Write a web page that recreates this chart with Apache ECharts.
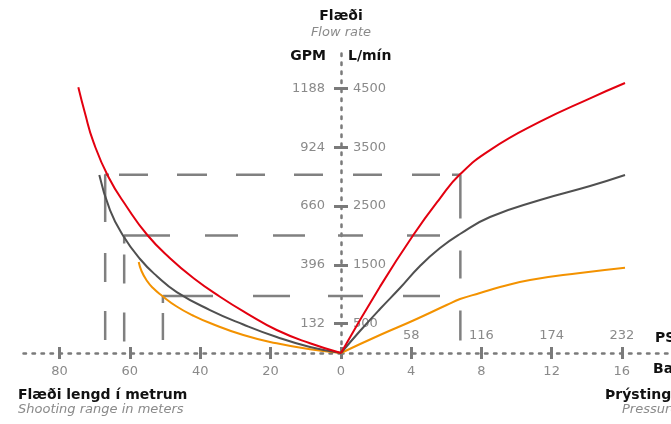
<!DOCTYPE html>
<html>
<head>
<meta charset="utf-8">
<script src="https://cdn.jsdelivr.net/npm/echarts@6/dist/echarts.min.js"></script>
<style>
  html, body { margin: 0; padding: 0; background: #fff; }
  #chart { width: 671px; height: 424px; }
</style>
</head>
<body>
<div id="chart"></div>
<script>
// ---- tick values & labels ----
const meterTicks = [0, 20, 40, 60, 80];
const barTicks = [0, 4, 8, 12, 16];
const barLabelTicks = [4, 8, 12, 16];
const psiLabels = [58, 116, 174, 232];
const lpmTicks = [500, 1500, 2500, 3500, 4500];
const gpmLabels = [132, 396, 660, 924, 1188];

// ---- series values: [range m, flow L/min] and [pressure bar, flow L/min] ----
const redRange = [[0,0],[8.81,165],[18.27,391],[26.79,675],[34.38,957],[41.96,1276],[48.58,1611],[55.03,2007],[60.88,2488],[66.11,2998],[70.37,3594],[72.73,4077],[74.63,4519]];
const grayRange = [[0,0],[8.81,102],[18.27,272],[27.75,485],[37.22,731],[46.67,1037],[52.36,1310],[57.1,1599],[61.85,1990],[65.63,2432],[68.67,3027]];
const orangeRange = [[0,0],[8.81,63],[18.27,165],[27.76,306],[37.22,510],[42.05,638],[46.68,791],[50.94,978],[53.41,1105],[55.2,1233],[56.68,1395],[57.47,1548]];

const redPressure = [[0,0],[2.22,1128],[4.12,2007],[5.64,2631],[6.78,3039],[8.49,3452],[11.34,3934],[14.19,4332],[16.18,4592]];
const grayPressure = [[0,0],[1.08,374],[2.22,748],[3.36,1105],[4.5,1480],[5.64,1786],[6.78,2024],[8.49,2313],[11.34,2602],[14.19,2840],[16.18,3027]];
const orangePressure = [[0,0],[2.22,306],[4.12,553],[6.02,816],[6.78,918],[7.92,1020],[9.06,1122],[10.77,1241],[13.62,1361],[16.18,1451]];

// ---- guide (dashed) lines ----
const guideFlows = [3030, 2000, 970];
const guideRanges = [67, 61.6, 50.6];
const guidePressures = [6.8, 5.64, 5.64];

// axis extents
const rangeMax = 91.2, pressureMax = 18.8, flowMax = 5120;

const FONT = '"DejaVu Sans", sans-serif';
const AX = '#7a7a7a';
const LBL = '#8a8a8a';
const dotted = { color: AX, width: 2.5, type: [2.5, 6.5] };

const chart = echarts.init(document.getElementById('chart'), null, { renderer: 'canvas' });

function curve(data, color, xi, yi) {
  return { type: 'line', data, xAxisIndex: xi, yAxisIndex: yi, smooth: 0.5, symbol: 'none',
    lineStyle: { color, width: 2 }, z: 5, silent: true };
}
function guide(data, dash, xi, yi) {
  return { type: 'line', data, xAxisIndex: xi, yAxisIndex: yi, symbol: 'none', smooth: false,
    lineStyle: { color: '#808080', width: 2.5, type: dash, cap: 'butt' }, z: 3, silent: true };
}

const leftGuides = [
  guide([[0, guideFlows[0]], [guideRanges[0], guideFlows[0]], [guideRanges[0], 0]], [0,18,29,29,29,29,30,29,29,10,51,31,29,29,29,100], 0, 0),
  guide([[0, guideFlows[1]], [guideRanges[1], guideFlows[1]], [guideRanges[1], 0]], [3,33,32,35,33,35,54,11,29,29,29,100], 0, 0),
  guide([[0, guideFlows[2]], [guideRanges[2], guideFlows[2]], [guideRanges[2], 0]], [13,38,37,40,57,10,27,100], 0, 0)
];
const rightGuides = [
  guide([[0, guideFlows[0]], [guidePressures[0], guideFlows[0]], [guidePressures[0], 0]], [0,12,29,30,28,12,52,32,28,32,30,100], 2, 1),
  guide([[0, guideFlows[1]], [guidePressures[1], guideFlows[1]]], [22,44,33,100], 2, 1),
  guide([[0, guideFlows[2]], [guidePressures[2], guideFlows[2]]], [22,40,37,100], 2, 1)
];

function txt(text, x, y, align, font, fill) {
  return { type: 'text', silent: true, z: 10,
    style: { text, x, y, align, verticalAlign: 'middle', font, fill } };
}
const B14 = 'bold 14px ' + FONT;
const I13 = 'italic 13px ' + FONT;

const option = {
  animation: false,
  backgroundColor: '#fff',
  textStyle: { fontFamily: FONT },
  grid: [
    { left: 20, right: 330, top: 52, bottom: 71 },
    { left: 341, right: 0, top: 52, bottom: 71 }
  ],
  xAxis: [
    { type: 'value', gridIndex: 0, inverse: true, min: 0, max: rangeMax,
      axisLine: { show: true, lineStyle: dotted },
      axisTick: { show: true, length: 6, customValues: meterTicks, lineStyle: { color: AX, width: 3 } },
      axisLabel: { show: true, customValues: meterTicks, color: LBL, fontSize: 13, margin: 12, fontFamily: FONT, formatter: v => String(v) },
      splitLine: { show: false } },
    { type: 'value', gridIndex: 0, inverse: true, min: 0, max: rangeMax, position: 'bottom',
      axisLine: { show: false },
      axisTick: { show: true, inside: true, length: 6, customValues: meterTicks, lineStyle: { color: AX, width: 3 } },
      axisLabel: { show: false }, splitLine: { show: false } },
    { type: 'value', gridIndex: 1, min: 0, max: pressureMax,
      axisLine: { show: true, lineStyle: dotted },
      axisTick: { show: true, length: 6, customValues: barTicks, lineStyle: { color: AX, width: 3 } },
      axisLabel: { show: true, customValues: barLabelTicks, color: LBL, fontSize: 13, margin: 12, fontFamily: FONT, formatter: v => String(v) },
      splitLine: { show: false } },
    { type: 'value', gridIndex: 1, min: 0, max: pressureMax, position: 'bottom',
      axisLine: { show: false },
      axisTick: { show: true, inside: true, length: 6, customValues: barTicks, lineStyle: { color: AX, width: 3 } },
      axisLabel: { show: true, inside: true, customValues: barLabelTicks, color: LBL, fontSize: 13, margin: 11, fontFamily: FONT,
        formatter: v => String(psiLabels[barLabelTicks.indexOf(v)]) },
      splitLine: { show: false } }
  ],
  yAxis: [
    { type: 'value', gridIndex: 0, position: 'right', min: 0, max: flowMax,
      axisLine: { show: true, lineStyle: dotted },
      axisTick: { show: true, inside: true, length: 7, customValues: lpmTicks, lineStyle: { color: AX, width: 3 } },
      axisLabel: { show: true, inside: true, customValues: lpmTicks, color: LBL, fontSize: 13, margin: 16, fontFamily: FONT,
        formatter: v => String(gpmLabels[lpmTicks.indexOf(v)]) },
      splitLine: { show: false } },
    { type: 'value', gridIndex: 1, position: 'left', min: 0, max: flowMax,
      axisLine: { show: false },
      axisTick: { show: true, inside: true, length: 7, customValues: lpmTicks, lineStyle: { color: AX, width: 3 } },
      axisLabel: { show: true, inside: true, customValues: lpmTicks, color: LBL, fontSize: 13, margin: 12, fontFamily: FONT,
        formatter: v => String(v) },
      splitLine: { show: false } }
  ],
  series: [
    ...leftGuides, ...rightGuides,
    curve(orangeRange, '#f39200', 0, 0),
    curve(grayRange, '#505050', 0, 0),
    curve(redRange, '#e3000f', 0, 0),
    curve(orangePressure, '#f39200', 2, 1),
    curve(grayPressure, '#505050', 2, 1),
    curve(redPressure, '#e3000f', 2, 1)
  ],
  graphic: [
    txt('Flæði', 341, 16, 'center', B14, '#111'),
    txt('Flow rate', 341, 33, 'center', I13, LBL),
    txt('GPM', 326, 56, 'right', B14, '#111'),
    txt('L/mín', 348, 56, 'left', B14, '#111'),
    txt('Flæði lengd í metrum', 18, 395, 'left', B14, '#111'),
    txt('Shooting range in meters', 18, 410, 'left', I13, LBL),
    txt('PSI', 655, 338, 'left', B14, '#111'),
    txt('Bar', 653, 369, 'left', B14, '#111'),
    txt('Þrýstingur', 605, 395, 'left', B14, '#111'),
    txt('Pressure', 622, 410, 'left', I13, LBL)
  ]
};
chart.setOption(option);
</script>
</body>
</html>
